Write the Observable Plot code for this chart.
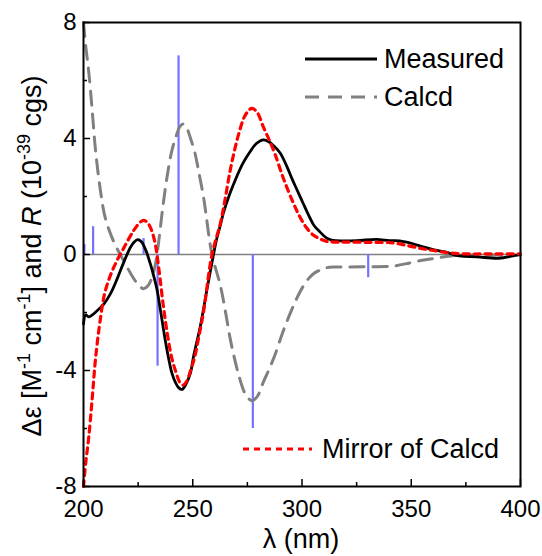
<!DOCTYPE html>
<html><head><meta charset="utf-8">
<script src="https://cdn.jsdelivr.net/npm/d3@7"></script>
<script src="https://cdn.jsdelivr.net/npm/@observablehq/plot@0.6"></script>
<style>body{margin:0;background:#fff}#chart{width:542px;height:556px}</style>
</head><body><div id="chart"></div>
<script>
// Measured ECD curve
const measuredWl  = [200,201,202.4,206.2,209.3,212.3,215.4,218.4,221.5,223.2,224.8,226.5,228.5,230.5,232,233.6,235.5,237.4,239,240.5,242,243.6,245.1,246.7,248.9,250.4,251.9,253.4,255,256.5,258,259.5,261,262.6,264.1,267,270.2,273,276.3,279,282.3,285,287,290,293,295.5,297.6,300.6,303.7,305.5,308.2,311,313.5,315.8,325,334,340,344.7,350.8,355,360,366,372,380,390,396.5,400];
const measuredVal = [-2.4,-2.08,-2.15,-1.94,-1.71,-1.36,-0.84,-0.27,0.25,0.43,0.51,0.44,0.15,-0.3,-0.7,-1.2,-2.05,-2.95,-3.6,-4.1,-4.4,-4.6,-4.65,-4.5,-4.1,-3.5,-3.0,-2.5,-1.85,-1.2,-0.6,0.0,0.55,1.0,1.45,2.1,2.7,3.15,3.55,3.82,3.95,3.88,3.75,3.5,3.05,2.6,2.25,1.75,1.25,1.0,0.78,0.58,0.5,0.48,0.48,0.52,0.48,0.47,0.37,0.27,0.17,0.08,-0.05,-0.08,-0.13,-0.05,0.0];
// Mirror of the calculated ECD curve (the calculated curve is its negative)
const mirrorWl  = [200,201,202.4,204,205.5,207.8,210,213.8,218.4,223,225.5,227.5,229.5,231.4,233,234.5,236.5,238.5,240.5,242.5,244,245.5,247,249,251,253,255,258.8,262.6,264.8,267,269,271,274,277,279.5,282.3,285,287.7,291.5,296,299,302.1,305,308.2,311,314.3,320,330,341.7,349.3,355,360,368,375.6,385,400];
const mirrorVal = [-8.0,-7.2,-6.3,-4.95,-3.6,-2.18,-1.25,-0.45,0.22,0.83,1.08,1.18,1.08,0.78,0.3,-0.5,-1.75,-2.8,-3.6,-4.1,-4.4,-4.5,-4.4,-4.0,-3.5,-2.75,-1.95,0.0,1.06,1.9,2.85,3.55,4.15,4.8,5.04,4.9,4.4,3.95,3.45,2.62,1.78,1.3,0.92,0.68,0.54,0.46,0.43,0.43,0.42,0.4,0.29,0.2,0.14,0.05,0.02,0.02,0.02];
// Rotatory strengths (sticks)
const stickWl = [200.4,204.4,227.5,233.9,243.5,277.5,330.3];
const stickR  = [0.35,0.96,0.55,-3.85,6.85,-6.0,-0.8];
// Ticks
const xMajor = [200,250,300,350,400];
const xMinor = [225,275,325,375];
const yMajor = [-8,-4,0,4,8];
const yMinor = [-6,-2,2,6];

const measured = measuredWl.map((x,i)=>({x, y: measuredVal[i]}));
const mirror = mirrorWl.map((x,i)=>({x, y: mirrorVal[i]}));
const calcd = mirrorWl.map((x,i)=>({x, y: -mirrorVal[i]}));
const sticks = stickWl.map((x,i)=>({x, y: stickR[i]}));

const font = "'Liberation Sans', Arial, sans-serif";
const chart = Plot.plot({
  width: 542, height: 556,
  marginLeft: 83, marginRight: 22, marginTop: 22, marginBottom: 70,
  style: {fontFamily: font, background: "#fff", color: "#000"},
  x: {domain: [200, 400], label: null},
  y: {domain: [-8, 8], label: null},
  marks: [
    Plot.ruleY([0], {stroke: "#808080", strokeWidth: 1.6}),
    Plot.ruleX(sticks, {x: "x", y1: 0, y2: "y", stroke: "#7373ff", strokeWidth: 2.2}),
    Plot.line(calcd, {x: "x", y: "y", stroke: "#808080", strokeWidth: 3, strokeDasharray: "14,9", curve: "catmull-rom"}),
    Plot.line(measured, {x: "x", y: "y", stroke: "#000", strokeWidth: 2.8, curve: "catmull-rom"}),
    Plot.line(mirror, {x: "x", y: "y", stroke: "#ff0000", strokeWidth: 3.2, strokeDasharray: "6,5", curve: "catmull-rom"}),
    Plot.axisX(xMajor, {anchor: "bottom", tickSize: -7, tickPadding: 20, fontSize: 24, tickFormat: d => String(d), label: null, strokeWidth: 1.5}),
    Plot.axisX(xMinor, {anchor: "bottom", tickSize: -4, tickFormat: () => "", label: null, strokeWidth: 1.5}),
    Plot.axisY(yMajor, {anchor: "left", tickSize: -7, tickPadding: 14, fontSize: 24, tickFormat: d => String(d), label: null, strokeWidth: 1.5}),
    Plot.axisY(yMinor, {anchor: "left", tickSize: -4, tickFormat: () => "", label: null, strokeWidth: 1.5}),
    Plot.frame({stroke: "#000", strokeWidth: 2})
  ]
});
document.getElementById("chart").appendChild(chart);

const svg = d3.select(chart);
// Y axis title
const yt = svg.append("text").attr("transform", "translate(41,256) rotate(-90)")
  .attr("text-anchor", "middle").attr("font-size", 27).attr("font-family", font).attr("fill", "#000");
yt.append("tspan").text("Δε [M");
yt.append("tspan").attr("font-size", 18).attr("dy", -11).text("-1");
yt.append("tspan").attr("dy", 11).text(" cm");
yt.append("tspan").attr("font-size", 18).attr("dy", -11).text("-1");
yt.append("tspan").attr("dy", 11).text("] and ");
yt.append("tspan").attr("font-style", "italic").text("R");
yt.append("tspan").text(" (10");
yt.append("tspan").attr("font-size", 18).attr("dy", -11).text("-39");
yt.append("tspan").attr("dy", 11).text(" cgs)");
// X axis title
svg.append("text").attr("x", 301).attr("y", 548).attr("text-anchor", "middle")
  .attr("font-size", 27).attr("font-family", font).attr("fill", "#000").text("λ (nm)");
// Legend
const legend = [
  {label: "Measured", y: 59, x1: 305, x2: 377, tx: 384, stroke: "#000", dash: null, w: 2.8},
  {label: "Calcd", y: 97, x1: 305, x2: 377, tx: 384, stroke: "#808080", dash: "14,9", w: 3},
  {label: "Mirror of Calcd", y: 449, x1: 243, x2: 312, tx: 322, stroke: "#ff0000", dash: "6,5", w: 3.2}
];
for (const l of legend) {
  svg.append("line").attr("x1", l.x1).attr("x2", l.x2).attr("y1", l.y).attr("y2", l.y)
    .attr("stroke", l.stroke).attr("stroke-width", l.w).attr("stroke-dasharray", l.dash);
  svg.append("text").attr("x", l.tx).attr("y", l.y).attr("dy", "0.35em").attr("text-anchor", "start")
    .attr("font-size", 27).attr("font-family", font).attr("fill", "#000").text(l.label);
}
</script>
</body></html>
